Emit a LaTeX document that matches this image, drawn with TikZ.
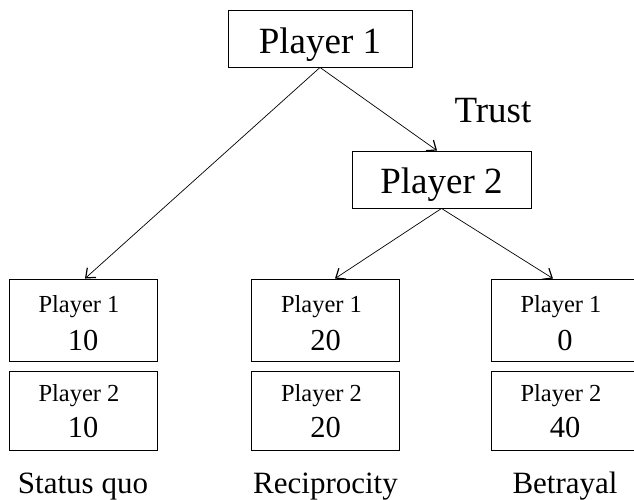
\documentclass[tikz,border=0pt]{standalone}
\usepackage{fontspec}
\setmainfont{Liberation Serif}
\usetikzlibrary{positioning, arrows.meta}

\begin{document}
\begin{tikzpicture}[x=1pt, y=-1pt,
    box/.style={draw, line width=0.9pt, inner sep=0pt, minimum width=148pt},
    move/.style={-{Straight Barb[length=8pt,width=13pt,line width=1.2pt]}, line width=0.7pt},
    who/.style={anchor=base, font=\fontsize{24.5}{28}\selectfont},
    pay/.style={anchor=base, font=\fontsize{30.5}{34}\selectfont},
    outc/.style={anchor=base, font=\fontsize{31}{34}\selectfont}]
    \useasboundingbox (0,0) rectangle (634,500);

    % decision nodes
    \node[box, minimum width=184pt, text height=44pt, text depth=13pt, font=\fontsize{37}{40}\selectfont] (root) at (320,38.5) {Player 1};
    \node[box, minimum width=179pt, text height=42pt, text depth=15pt, font=\fontsize{37}{40}\selectfont] (p2) at (441.5,179.5) {Player 2};
    \node[anchor=base, font=\fontsize{37}{40}\selectfont] (trust) at (493,123) {Trust};

    % outcomes
    \foreach \x/\n/\a/\b/\lab in {83/sq/10/10/Status quo, 325.5/rc/20/20/Reciprocity, 565/bt/0/40/Betrayal} {
        \node[box, minimum height=82pt] (\n1) at (\x,320) {};
        \node[box, minimum height=79pt] (\n2) at (\x,410.5) {};
        \node[who] (\n1w) at (\x-4,312) {Player 1};
        \node[pay] (\n1v) at (\x,350) {\a};
        \node[who] (\n2w) at (\x-4,401) {Player 2};
        \node[pay] (\n2v) at (\x,437) {\b};
        \node[outc] (\n) at (\x,493) {\lab};
    }

    % moves
    \draw[move] (root.south) -- ([xshift=2pt]sq1.north);
    \draw[move] (root.south) -- ([xshift=-4.5pt]p2.north);
    \draw[move] (p2.south) -- ([xshift=9.5pt]rc1.north);
    \draw[move] (p2.south) -- ([xshift=-12pt]bt1.north);
\end{tikzpicture}
\end{document}
